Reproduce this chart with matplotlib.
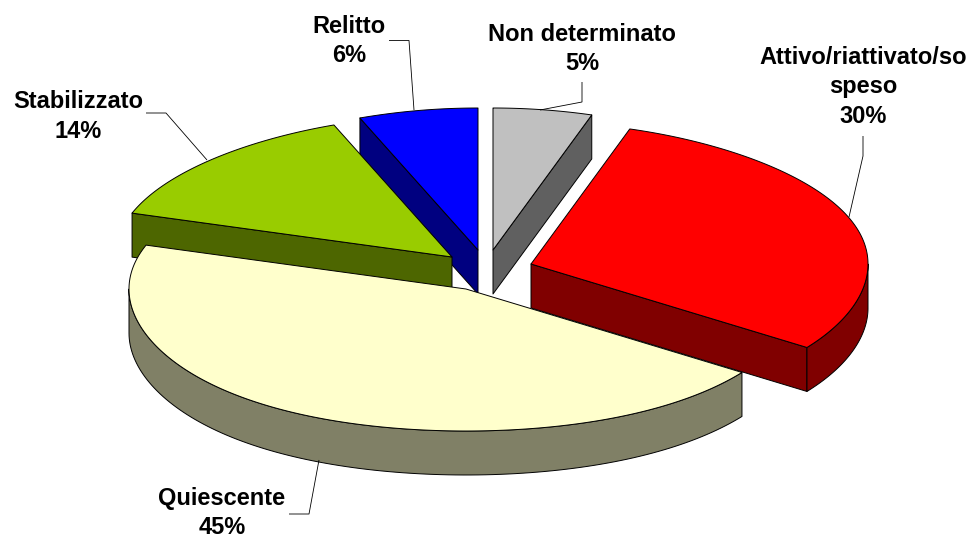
import numpy as np
import matplotlib
matplotlib.use("Agg")
import matplotlib.pyplot as plt
from matplotlib.patches import Polygon

# clockwise from 12 o'clock
names = ["Non determinato", "Attivo/riattivato/so\nspeso", "Quiescente", "Stabilizzato", "Relitto"]
values = [5, 30, 45, 14, 6]

top_colors = ["#C0C0C0", "#FF0000", "#FFFFCC", "#99CC00", "#0000FF"]
side_colors = ["#606060", "#800000", "#808066", "#4D6600", "#000080"]

# layout, in pixels of the 970x537 picture
rx, ry, depth = 337, 142, 44
persp = 0.06  # the back of the pie is a bit narrower than the front
apex = [(493, 250), (531, 264), (466, 289), (452, 257), (478, 250)]
label_pos = [(582, 41), (863, 64), (222, 505), (78, 108), (349, 33)]
line_step = 29.5
leaders = [
    [(582, 82), (582, 102), (540, 110)],
    [(863, 136), (863, 156), (849, 217)],
    [(289, 514), (309, 514), (319, 460)],
    [(146, 113), (166, 113), (207, 160)],
    [(389, 40.5), (409, 40.5), (414, 110)],
]
# back slices first, Quiescente on top of everything
draw_order = [0, 4, 3, 1, 2]


def rim_point(a, t):
    return a[0] + rx * np.sin(t) * (1 - persp * np.cos(t) ** 3), a[1] - ry * np.cos(t)


def draw_slice(ax, a, start, end, top, side):
    style = dict(edgecolor="black", linewidth=0.7, joinstyle="round")
    # cut faces, only the ones turned towards the viewer
    faces = []
    if np.sin(start) < -1e-6:
        faces.append(rim_point(a, start))
    if np.sin(end) > 1e-6:
        faces.append(rim_point(a, end))
    for p in faces:
        quad = [a, p, (p[0], p[1] + depth), (a[0], a[1] + depth)]
        ax.add_patch(Polygon(quad, closed=True, facecolor=side, **style))
    # outer wall, only the front half of the ellipse shows
    lo, hi = max(start, np.pi / 2), min(end, 3 * np.pi / 2)
    if lo < hi:
        ts = np.linspace(lo, hi, 120)
        x, y = rim_point(a, ts)
        wall = list(zip(x, y)) + list(zip(x[::-1], y[::-1] + depth))
        ax.add_patch(Polygon(wall, closed=True, facecolor=side, **style))
    ts = np.linspace(start, end, 200)
    x, y = rim_point(a, ts)
    ax.add_patch(Polygon([a] + list(zip(x, y)), closed=True, facecolor=top, **style))


fig = plt.figure(figsize=(9.7, 5.37), dpi=100)
ax = fig.add_axes([0, 0, 1, 1])
ax.set_xlim(0, 970)
ax.set_ylim(537, 0)
ax.axis("off")

edges = np.cumsum([0] + values) / sum(values) * 2 * np.pi
for i in draw_order:
    draw_slice(ax, apex[i], edges[i], edges[i + 1], top_colors[i], side_colors[i])

for pts in leaders:
    xs, ys = zip(*pts)
    ax.plot(xs, ys, color="black", lw=0.6, solid_capstyle="butt")

for name, v, (x, y) in zip(names, values, label_pos):
    lines = name.split("\n") + [f"{v}%"]
    for k, line in enumerate(lines):
        ax.text(x, y + k * line_step, line, ha="center", va="baseline",
                family="Liberation Sans", weight="bold", fontsize=17, color="black", clip_on=False)

fig.savefig("out.png", dpi=100, facecolor="white")
